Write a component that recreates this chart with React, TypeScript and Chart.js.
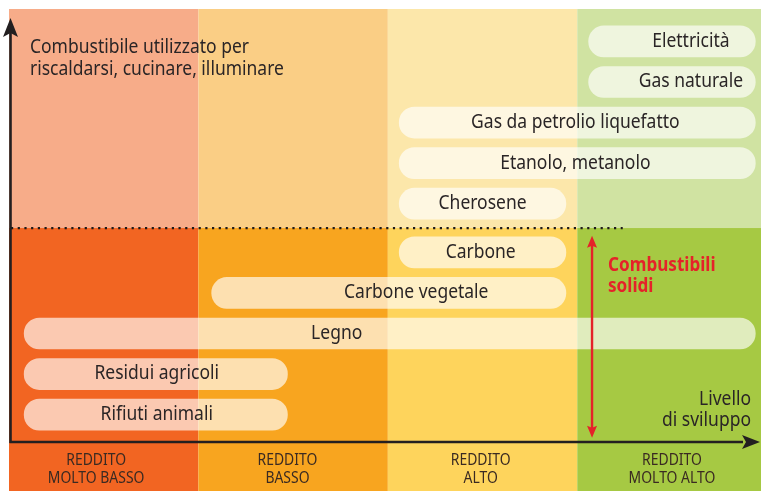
import React, { useEffect, useRef } from "react";
import { Chart, registerables } from "chart.js";

Chart.register(...registerables);

// ---- data ----
const fuels = [
  "Elettricità",
  "Gas naturale",
  "Gas da petrolio liquefatto",
  "Etanolo, metanolo",
  "Cherosene",
  "Carbone",
  "Carbone vegetale",
  "Legno",
  "Residui agricoli",
  "Rifiuti animali",
];
// vertical level (fuel ladder) of each fuel
const fuelLevel = [10.2, 9.2, 8.2, 7.2, 6.2, 5, 4, 3, 2, 1];
// income range (0 = lowest income, 4 = highest) where each fuel is used
const useFrom = [3.06, 3.06, 2.06, 2.06, 2.06, 2.06, 1.07, 0.08, 0.08, 0.08];
const useTo = [3.94, 3.94, 3.94, 3.94, 2.94, 2.94, 2.94, 3.94, 1.47, 1.47];
const labelAt = [3.6, 3.6, 2.99, 2.99, 2.5, 2.49, 2.15, 1.73, 0.78, 0.78];

const incomeLevels = [
  ["REDDITO", "MOLTO BASSO"],
  ["REDDITO", "BASSO"],
  ["REDDITO", "ALTO"],
  ["REDDITO", "MOLTO ALTO"],
];
const incomeBounds = [0, 1, 2, 3, 3.97];
const incomeLabelAt = [0.46, 1.47, 2.49, 3.5];
const solidThreshold = 5.6;
const solidArrow = { x: 3.078, from: 0.43, to: 5.41 };
const dottedEnd = 3.24;

const upperColors = ["#F7AC89", "#FACE85", "#FCE7AA", "#D0E3A2"];
const lowerColors = ["#F26522", "#F8A51F", "#FED45C", "#A6C943"];

const yAxisTitle = ["Combustibile utilizzato per", "riscaldarsi, cucinare, illuminare"];
const xAxisTitle = ["Livello", "di sviluppo"];
const solidTitle = ["Combustibili", "solidi"];

const FONT = "'Noto Sans', 'Open Sans', sans-serif";
const SQUEEZE = 0.92;
const INK = "#2a2526";
const RED = "#E52229";

function text(ctx: CanvasRenderingContext2D, s: string, x: number, y: number, sq = SQUEEZE) {
  ctx.save();
  ctx.translate(x, y);
  ctx.scale(sq, 1);
  ctx.fillText(s, 0, 0);
  ctx.restore();
}

const ladderPlugin = {
  id: "ladder",
  beforeDatasetsDraw(chart: any) {
    const { ctx, chartArea, scales } = chart;
    const xs = scales.x, ys = scales.y;
    const yT = ys.getPixelForValue(solidThreshold);
    ctx.save();
    for (let i = 0; i < 4; i++) {
      const x0 = xs.getPixelForValue(incomeBounds[i]);
      const x1 = i === 3 ? chart.width : xs.getPixelForValue(incomeBounds[i + 1]);
      ctx.fillStyle = upperColors[i];
      ctx.fillRect(x0, chartArea.top, x1 - x0, yT - chartArea.top);
      ctx.fillStyle = lowerColors[i];
      ctx.fillRect(x0, yT, x1 - x0, chart.height - yT);
    }
    ctx.restore();
  },
  afterDatasetsDraw(chart: any) {
    const { ctx, chartArea, scales } = chart;
    const xs = scales.x, ys = scales.y;
    const meta = chart.getDatasetMeta(0);
    ctx.save();
    // pill labels
    ctx.fillStyle = INK;
    ctx.font = `19px ${FONT}`;
    ctx.textAlign = "center";
    ctx.textBaseline = "middle";
    fuels.forEach((f, i) => {
      const el = meta.data[i];
      text(ctx, f, xs.getPixelForValue(labelAt[i]), el.y);
    });

    // dotted separator
    const yT = ys.getPixelForValue(solidThreshold);
    ctx.strokeStyle = "#1e1a1a";
    ctx.lineWidth = 2.2;
    ctx.setLineDash([2.2, 4.5]);
    ctx.beginPath();
    ctx.moveTo(chartArea.left + 2, yT);
    ctx.lineTo(xs.getPixelForValue(dottedEnd), yT);
    ctx.stroke();
    ctx.setLineDash([]);

    // axes
    const ax = chartArea.left + 1.5;
    const ay = chartArea.bottom - 1;
    ctx.strokeStyle = "#231f20";
    ctx.fillStyle = "#231f20";
    ctx.lineWidth = 2.6;
    ctx.beginPath();
    ctx.moveTo(ax, ay + 1);
    ctx.lineTo(ax, 32);
    ctx.moveTo(ax - 1, ay);
    ctx.lineTo(chart.width - 18, ay);
    ctx.stroke();
    ctx.beginPath();
    ctx.moveTo(ax, 18);
    ctx.lineTo(ax + 7.5, 37);
    ctx.lineTo(ax, 33);
    ctx.lineTo(ax - 7.5, 37);
    ctx.closePath();
    ctx.fill();
    const tipX = chart.width - 1;
    ctx.beginPath();
    ctx.moveTo(tipX, ay);
    ctx.lineTo(tipX - 18, ay - 7);
    ctx.lineTo(tipX - 14, ay);
    ctx.lineTo(tipX - 18, ay + 7);
    ctx.closePath();
    ctx.fill();

    // red double arrow
    const rx = xs.getPixelForValue(solidArrow.x);
    const rTop = ys.getPixelForValue(solidArrow.to);
    const rBot = ys.getPixelForValue(solidArrow.from);
    ctx.strokeStyle = RED;
    ctx.fillStyle = RED;
    ctx.lineWidth = 2.4;
    ctx.beginPath();
    ctx.moveTo(rx, rTop + 8);
    ctx.lineTo(rx, rBot - 8);
    ctx.stroke();
    ctx.beginPath();
    ctx.moveTo(rx, rTop);
    ctx.lineTo(rx + 5, rTop + 12);
    ctx.lineTo(rx, rTop + 10);
    ctx.lineTo(rx - 5, rTop + 12);
    ctx.closePath();
    ctx.fill();
    ctx.beginPath();
    ctx.moveTo(rx, rBot);
    ctx.lineTo(rx + 5, rBot - 12);
    ctx.lineTo(rx, rBot - 10);
    ctx.lineTo(rx - 5, rBot - 12);
    ctx.closePath();
    ctx.fill();

    // titles
    ctx.fillStyle = INK;
    ctx.textAlign = "left";
    ctx.textBaseline = "alphabetic";
    ctx.font = `19px ${FONT}`;
    text(ctx, yAxisTitle[0], chartArea.left + 21, 53);
    text(ctx, yAxisTitle[1], chartArea.left + 21, 75);

    ctx.textAlign = "right";
    text(ctx, xAxisTitle[0], chart.width - 10, 405);
    text(ctx, xAxisTitle[1], chart.width - 10, 426);

    ctx.fillStyle = RED;
    ctx.textAlign = "left";
    ctx.font = `bold 19px ${FONT}`;
    text(ctx, solidTitle[0], rx + 16, 271, 0.9);
    text(ctx, solidTitle[1], rx + 16, 292, 0.9);

    // income band labels
    ctx.fillStyle = "#3a2a22";
    ctx.textAlign = "center";
    ctx.textBaseline = "middle";
    ctx.font = `16px ${FONT}`;
    for (let i = 0; i < 4; i++) {
      const cx = xs.getPixelForValue(incomeLabelAt[i]);
      text(ctx, incomeLevels[i][0], cx, 460, 0.87);
      text(ctx, incomeLevels[i][1], cx, 478, 0.87);
    }
    ctx.restore();
  },
};

export default function App() {
  const ref = useRef<HTMLCanvasElement>(null);
  useEffect(() => {
    if (!ref.current) return;
    const chart = new Chart(ref.current, {
      type: "bar",
      data: {
        datasets: [
          {
            data: fuels.map((_, i) => ({ x: [useFrom[i], useTo[i]], y: fuelLevel[i] })) as any,
            backgroundColor: "rgba(255,255,255,0.65)",
            borderWidth: 0,
            borderRadius: 16,
            borderSkipped: false,
            barThickness: 31,
          },
        ],
      },
      options: {
        indexAxis: "y",
        animation: false,
        responsive: false,
        events: [],
        layout: { padding: { left: 9, top: 9, right: 0, bottom: 48 } },
        plugins: { legend: { display: false }, tooltip: { enabled: false } },
        scales: {
          x: { type: "linear", min: 0, max: 3.97, display: false },
          y: { type: "linear", min: 0.3, max: 11, display: false, offset: false },
        },
      },
      plugins: [ladderPlugin],
    } as any);
    return () => chart.destroy();
  }, []);
  return (
    <div style={{ position: "fixed", left: 0, top: 0, width: 761, height: 491, background: "#fff" }}>
      <canvas ref={ref} width={761} height={491} style={{ display: "block" }} />
    </div>
  );
}
